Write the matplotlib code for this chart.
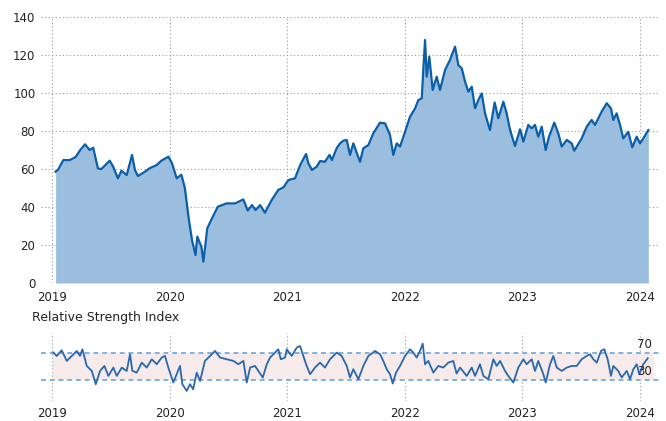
import matplotlib
matplotlib.use("Agg")
import matplotlib.pyplot as plt
import numpy as np

# ---- data (decimal years) ----
price_t = [2019.03, 2019.05, 2019.096, 2019.15, 2019.2, 2019.24, 2019.28, 2019.32, 2019.35, 2019.39,
           2019.42, 2019.49, 2019.52, 2019.56, 2019.59, 2019.635, 2019.68, 2019.705, 2019.73, 2019.79,
           2019.83, 2019.89, 2019.93, 2019.99, 2020.02, 2020.06, 2020.10, 2020.13, 2020.16, 2020.19,
           2020.22, 2020.235, 2020.27, 2020.287, 2020.32, 2020.36, 2020.41, 2020.485, 2020.556, 2020.627,
           2020.664, 2020.70, 2020.73, 2020.77, 2020.81, 2020.868, 2020.924, 2020.967, 2021.01, 2021.066,
           2021.11, 2021.16, 2021.18, 2021.21, 2021.25, 2021.28, 2021.32, 2021.36, 2021.38, 2021.42,
           2021.449, 2021.477, 2021.506, 2021.534, 2021.562, 2021.619, 2021.647, 2021.69, 2021.732, 2021.789,
           2021.832, 2021.874, 2021.902, 2021.931, 2021.959, 2022.002, 2022.044, 2022.087, 2022.115, 2022.144,
           2022.157, 2022.172, 2022.186, 2022.208, 2022.237, 2022.271, 2022.299, 2022.342, 2022.384, 2022.427,
           2022.455, 2022.484, 2022.512, 2022.54, 2022.569, 2022.597, 2022.625, 2022.654, 2022.682, 2022.724,
           2022.764, 2022.795, 2022.838, 2022.866, 2022.895, 2022.937, 2022.98, 2023.008, 2023.05, 2023.079,
           2023.107, 2023.135, 2023.164, 2023.198, 2023.226, 2023.271, 2023.305, 2023.334, 2023.377, 2023.419,
           2023.441, 2023.47, 2023.504, 2023.547, 2023.589, 2023.617, 2023.674, 2023.717, 2023.753, 2023.773,
           2023.801, 2023.83, 2023.858, 2023.9, 2023.934, 2023.972, 2024.0, 2024.028, 2024.071]
price_v = [58.6, 59.5, 64.7, 64.7, 66.3, 70.0, 73.0, 70.0, 71.2, 60.3,
           60.0, 64.4, 61.2, 55.1, 59.1, 56.8, 67.4, 59.5, 56.3, 58.6,
           60.4, 62.1, 64.4, 66.5, 63.0, 55.1, 57.0, 49.8, 34.9, 22.6,
           14.7, 24.4, 19.1, 11.2, 28.8, 34.0, 40.2, 41.9, 41.9, 44.0,
           38.1, 41.0, 38.4, 41.0, 37.0, 43.7, 49.0, 50.3, 54.2, 55.1,
           62.1, 67.9, 63.0, 59.5, 61.2, 64.2, 63.8, 67.4, 64.7, 70.9,
           73.5, 74.9, 75.3, 67.4, 73.5, 63.8, 70.9, 72.6, 78.8, 84.4,
           84.0, 77.9, 67.4, 73.5, 71.8, 79.6, 87.5, 91.9, 96.3, 97.2,
           112.1, 127.9, 108.6, 119.1, 101.6, 108.6, 101.6, 112.1, 117.4, 124.4,
           114.7, 113.0, 106.0, 100.7, 103.3, 91.9, 96.3, 99.8, 89.3, 80.5,
           95.0, 86.7, 95.4, 89.3, 80.5, 72.1, 80.9, 74.4, 83.2, 81.4,
           83.2, 77.0, 82.3, 70.0, 77.0, 84.4, 78.8, 71.8, 75.3, 73.5,
           69.6, 72.6, 76.1, 82.3, 85.8, 83.2, 90.2, 94.6, 91.9, 85.8,
           89.3, 83.2, 76.1, 79.6, 71.4, 77.0, 73.5, 76.1, 80.5]

rsi_t = [2019.011, 2019.04, 2019.082, 2019.125, 2019.168, 2019.21, 2019.238, 2019.258, 2019.295, 2019.338,
         2019.372, 2019.408, 2019.445, 2019.479, 2019.521, 2019.55, 2019.593, 2019.635, 2019.663, 2019.683,
         2019.72, 2019.763, 2019.805, 2019.848, 2019.89, 2019.933, 2019.96, 2019.989, 2020.031, 2020.06,
         2020.088, 2020.108, 2020.145, 2020.173, 2020.2, 2020.23, 2020.259, 2020.30, 2020.344, 2020.386,
         2020.429, 2020.486, 2020.542, 2020.584, 2020.627, 2020.656, 2020.684, 2020.726, 2020.754, 2020.792,
         2020.826, 2020.854, 2020.896, 2020.924, 2020.945, 2020.981, 2020.996, 2021.038, 2021.081, 2021.109,
         2021.137, 2021.16, 2021.194, 2021.236, 2021.279, 2021.321, 2021.364, 2021.421, 2021.463, 2021.506,
         2021.534, 2021.562, 2021.605, 2021.647, 2021.69, 2021.747, 2021.789, 2021.817, 2021.846, 2021.874,
         2021.897, 2021.925, 2021.959, 2022.002, 2022.044, 2022.072, 2022.101, 2022.129, 2022.152, 2022.172,
         2022.2, 2022.242, 2022.285, 2022.327, 2022.37, 2022.412, 2022.44, 2022.47, 2022.526, 2022.569,
         2022.597, 2022.639, 2022.668, 2022.71, 2022.753, 2022.781, 2022.81, 2022.852, 2022.88, 2022.923,
         2022.965, 2023.008, 2023.036, 2023.079, 2023.107, 2023.135, 2023.178, 2023.198, 2023.235, 2023.263,
         2023.292, 2023.334, 2023.377, 2023.419, 2023.462, 2023.504, 2023.547, 2023.575, 2023.603, 2023.632,
         2023.668, 2023.696, 2023.725, 2023.753, 2023.773, 2023.815, 2023.844, 2023.887, 2023.915, 2023.943,
         2023.972, 2023.994, 2024.028, 2024.066]
rsi_v = [71.0, 66.0, 74.4, 58.6, 66.0, 73.4, 66.0, 75.9, 51.2, 43.8,
         24.1, 43.8, 51.2, 36.4, 48.8, 36.4, 48.8, 43.8, 68.5, 43.8,
         41.3, 56.1, 48.8, 61.1, 53.7, 63.6, 66.0, 48.8, 26.6, 38.9,
         51.2, 24.1, 14.2, 24.1, 16.6, 41.3, 29.0, 58.6, 66.0, 73.4,
         63.6, 61.1, 58.6, 53.7, 58.6, 26.6, 48.8, 51.2, 43.8, 34.0,
         53.7, 63.6, 71.0, 75.9, 61.1, 63.6, 75.9, 66.0, 78.4, 80.8,
         66.0, 53.7, 38.9, 48.8, 56.1, 48.8, 61.1, 71.0, 66.0, 51.2,
         34.0, 46.3, 31.5, 51.2, 66.0, 73.4, 68.5, 58.6, 46.3, 38.9,
         25.1, 41.3, 51.2, 66.0, 75.9, 71.0, 63.6, 73.4, 84.3, 53.7,
         58.6, 41.3, 51.2, 48.8, 56.1, 58.6, 40.0, 48.8, 36.4, 48.8,
         36.4, 53.7, 36.4, 31.5, 61.1, 51.2, 58.6, 43.8, 36.4, 26.6,
         48.8, 61.1, 53.7, 61.1, 43.8, 58.6, 38.9, 26.6, 53.7, 66.0,
         48.8, 43.8, 48.8, 51.2, 51.2, 61.1, 66.0, 68.5, 61.1, 56.1,
         73.4, 75.9, 61.1, 36.4, 51.2, 43.8, 34.0, 43.8, 31.5, 46.3,
         53.7, 38.9, 53.7, 62.6]

years = [2019, 2020, 2021, 2022, 2023, 2024]
year_labels = ["2019", "2020", "2021", "2022", "2023", "2024"]
price_ticks = [0, 20, 40, 60, 80, 100, 120, 140]
rsi_levels = [30, 70]

# ---- style ----
W, H = 666, 421
fig = plt.figure(figsize=(W / 100, H / 100), dpi=100)
FS = 8.5
TXT = "#222222"
LINE = "#0b5fa8"
FILL = "#9bbedf"
GRID = "#9a9a9a"
XLIM = (2018.906, 2024.17)

def px(l, t, r, b):
    return [l / W, 1 - b / H, (r - l) / W, (b - t) / H]

# main price axes
ax = fig.add_axes(px(41, 17, 660, 283))
ax.fill_between(price_t, price_v, 0, color=FILL, lw=0)
ax.plot(price_t, price_v, color=LINE, lw=1.6, solid_joinstyle="round")
ax.set_xlim(*XLIM)
ax.set_ylim(0, 140)
ax.set_yticks(price_ticks)
ax.set_xticks(years)
ax.set_xticklabels(year_labels)
for s in ax.spines.values():
    s.set_visible(False)
ax.grid(True, color=GRID, ls=(0, (1, 2.2)), lw=0.8)
ax.set_axisbelow(True)
ax.tick_params(length=0, labelsize=FS, colors=TXT)
ax.tick_params(axis="y", pad=4)
ax.tick_params(axis="x", pad=6)

# RSI axes
fig.text(32 / W, 1 - 318 / H, "Relative Strength Index", fontsize=9, color=TXT,
         va="center", ha="left")
ax2 = fig.add_axes(px(41, 333, 660, 400.5))
ax2.set_xlim(*XLIM)
ax2.set_ylim(0, 100)
ax2.fill_between([rsi_t[0], rsi_t[-1] + 0.05], rsi_levels[0], rsi_levels[1],
                 color="#f6eaea", lw=0)
for lv in rsi_levels:
    ax2.axhline(lv, color="#7fb0df", ls=(0, (2.5, 2)), lw=1.4, xmin=0.0, xmax=1.0)
ax2.plot(rsi_t, rsi_v, color="#2a69ab", lw=1.3)
for lv in rsi_levels:
    ax2.annotate(str(lv), xy=(0.963, lv), xycoords=("axes fraction", "data"),
                 xytext=(0, 6), textcoords="offset points", fontsize=FS, color=TXT,
                 ha="left", va="center")
ax2.set_xticks(years)
ax2.set_xticklabels(year_labels)
ax2.set_yticks([])
for s in ax2.spines.values():
    s.set_visible(False)
ax2.grid(True, axis="x", color=GRID, ls=(0, (1, 2.2)), lw=0.8)
ax2.set_axisbelow(True)
ax2.tick_params(length=0, labelsize=FS, colors=TXT, pad=5)

fig.savefig("out.png", dpi=100)
